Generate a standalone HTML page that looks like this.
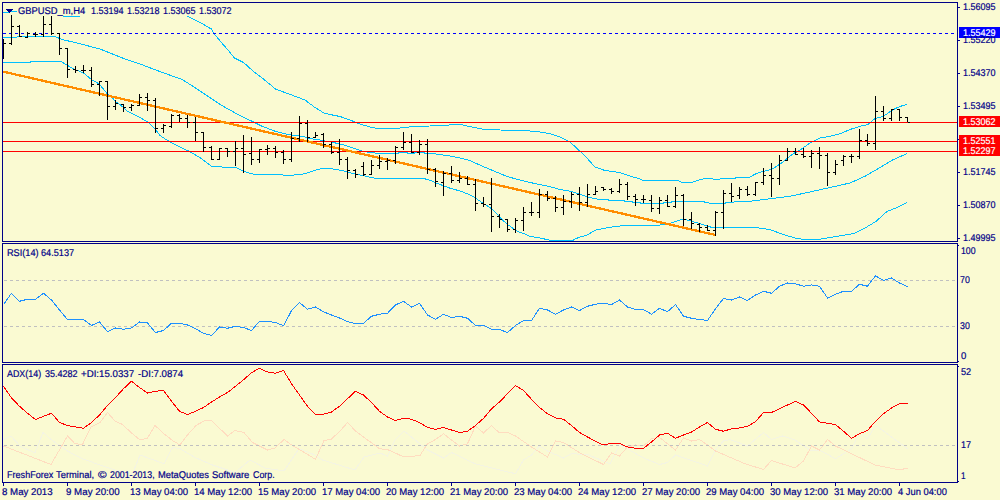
<!DOCTYPE html>
<html><head><meta charset="utf-8"><title>GBPUSD_m,H4</title>
<style>
html,body{margin:0;padding:0;background:#fafad2;}
body{width:1000px;height:500px;position:relative;overflow:hidden;font-family:"Liberation Sans",sans-serif;}
.t{position:absolute;font-size:40px;line-height:40px;height:40px;white-space:nowrap;transform-origin:0 0;text-rendering:geometricPrecision;-webkit-text-stroke:0.8px currentColor;}
</style></head><body>
<svg width="1000" height="500" viewBox="0 0 1000 500" shape-rendering="crispEdges" style="position:absolute;left:0;top:0">
<rect x="0" y="0" width="1000" height="500" fill="#fafad2"/>
<polyline points="3.00,12.50 8.00,12.50 10.00,11.50 17.00,11.50 40.00,14.00 63.00,15.50 64.00,16.50 79.00,16.50 80.00,15.50 120.00,14.00 170.00,13.50 186.00,15.50 188.00,16.30 199.20,22.00 211.20,28.90 214.40,34.00 221.60,42.80 228.00,50.00 234.40,58.00 244.00,62.80 253.60,71.60 263.20,78.80 276.00,89.40 285.00,92.50 295.00,96.25 305.00,100.00 315.00,107.50 324.00,113.00 332.50,115.00 340.00,116.50 350.00,120.00 360.00,124.00 370.00,127.00 377.50,128.40 390.00,128.40 400.00,128.00 415.00,126.40 430.00,126.00 445.00,125.40 455.00,124.50 460.00,124.30 470.00,126.70 485.00,129.50 500.00,130.00 520.00,130.50 535.00,131.25 550.00,133.75 560.00,137.00 570.00,142.00 580.00,151.25 587.50,158.75 595.00,167.00 605.00,170.50 620.00,172.60 630.00,176.00 640.00,179.00 643.00,180.50 678.00,180.50 682.00,182.30 692.00,182.30 700.00,179.80 705.00,178.50 712.00,178.50 714.00,179.50 718.00,179.50 722.00,178.50 730.00,178.50 735.00,178.50 736.00,177.50 749.00,177.50 755.00,174.20 762.00,171.70 768.00,170.20 773.00,168.70 779.00,164.70 784.00,161.20 790.00,156.20 794.00,153.20 799.00,150.70 810.00,143.00 820.00,138.00 830.00,136.25 840.00,133.75 850.40,129.40 859.20,126.50 868.00,124.50 871.20,122.00 873.60,119.40 877.60,117.70 883.20,116.50 887.20,113.70 890.40,111.40 896.00,108.20 900.80,106.20 907.00,104.50" fill="none" stroke="#00bfff" stroke-width="1" />
<polyline points="3.00,38.00 12.50,37.50 25.00,36.00 54.00,36.00 62.00,39.50 75.00,42.50 100.00,49.00 125.00,59.00 141.00,64.40 160.00,71.60 182.40,79.60 195.00,87.60 208.00,96.40 221.00,105.00 232.00,111.20 240.00,115.60 251.00,120.80 262.40,126.40 275.00,131.20 288.00,134.40 304.00,136.80 310.00,138.50 319.60,140.00 330.80,142.00 342.00,144.40 351.60,147.60 361.00,150.80 369.00,152.40 380.00,153.50 398.00,153.50 399.00,152.50 407.00,152.50 408.00,153.50 414.00,153.50 415.00,152.50 424.00,152.50 425.00,153.50 432.00,153.50 440.00,154.50 450.00,156.00 460.00,158.00 470.00,160.60 482.50,166.25 495.00,171.50 508.00,176.80 520.00,180.00 535.00,183.60 540.00,184.60 550.00,186.60 560.00,189.50 570.00,191.10 580.00,194.50 590.00,197.60 600.00,199.50 608.00,199.50 609.00,200.50 624.00,200.50 625.00,201.50 632.00,201.50 633.00,202.50 640.00,202.50 641.00,203.50 663.00,203.50 664.00,202.50 671.00,202.50 672.00,201.50 703.00,201.50 706.00,202.50 712.00,203.50 724.00,203.50 727.00,202.50 730.00,202.20 750.00,201.25 770.00,198.75 790.00,196.25 810.00,192.00 830.00,187.50 850.00,183.00 865.00,176.25 880.00,167.50 892.50,160.00 907.00,153.60" fill="none" stroke="#00bfff" stroke-width="1" />
<polyline points="3.00,62.50 30.00,62.50 31.00,61.50 61.00,61.50 66.00,64.50 70.00,67.00 75.00,69.50 80.00,71.50 85.00,74.00 90.00,78.50 93.00,80.50 97.00,82.50 100.00,85.00 103.00,88.50 107.00,93.50 112.00,97.50 116.00,102.00 120.00,104.50 125.00,109.00 128.00,111.60 140.80,118.00 148.80,122.80 155.00,129.00 160.00,135.50 168.00,140.80 176.00,145.00 188.80,151.20 200.00,157.60 211.00,166.00 224.00,167.20 230.00,167.50 236.00,167.50 240.00,169.50 245.00,171.50 250.00,173.50 256.00,174.60 270.00,174.70 278.00,174.40 282.00,174.40 284.00,175.30 293.00,175.30 295.00,174.40 302.00,174.40 310.00,172.00 318.00,169.50 323.00,168.20 330.00,168.40 334.00,169.20 342.00,170.50 351.60,173.20 362.80,175.60 374.00,178.00 386.80,178.50 399.60,178.50 412.40,178.60 424.00,178.60 430.00,180.20 435.00,182.50 440.00,184.40 450.00,188.20 460.00,191.00 470.00,194.80 475.00,197.70 480.00,201.20 485.00,204.50 490.00,207.50 496.00,213.00 501.60,219.20 508.00,224.80 516.00,230.40 520.00,232.40 524.00,233.60 529.60,236.40 536.00,237.30 542.40,238.50 546.40,239.50 552.00,240.50 572.80,240.50 576.00,238.50 581.60,236.60 588.00,234.80 592.00,232.00 596.80,229.70 602.00,228.80 615.00,226.50 630.00,225.00 645.00,225.00 660.00,225.00 668.80,223.80 676.00,221.30 683.00,219.20 690.00,220.70 697.00,222.80 705.00,225.30 712.80,227.70 733.00,227.60 748.40,227.60 759.40,228.00 770.40,229.80 783.60,234.60 794.60,237.90 803.40,239.40 818.80,239.40 827.60,237.90 840.80,235.70 854.00,233.50 865.00,228.00 876.00,221.40 887.00,211.50 898.00,207.10 907.00,202.40" fill="none" stroke="#00bfff" stroke-width="1" />
<rect x="3" y="122" width="954" height="1" fill="#ff0000"/>
<rect x="3" y="141" width="954" height="1" fill="#ff0000"/>
<rect x="3" y="151" width="954" height="1" fill="#ff0000"/>
<rect x="3" y="33" width="3" height="1" fill="#0000ff"/>
<rect x="9" y="33" width="3" height="1" fill="#0000ff"/>
<rect x="15" y="33" width="3" height="1" fill="#0000ff"/>
<rect x="21" y="33" width="3" height="1" fill="#0000ff"/>
<rect x="27" y="33" width="3" height="1" fill="#0000ff"/>
<rect x="33" y="33" width="3" height="1" fill="#0000ff"/>
<rect x="39" y="33" width="3" height="1" fill="#0000ff"/>
<rect x="45" y="33" width="3" height="1" fill="#0000ff"/>
<rect x="51" y="33" width="3" height="1" fill="#0000ff"/>
<rect x="57" y="33" width="3" height="1" fill="#0000ff"/>
<rect x="63" y="33" width="3" height="1" fill="#0000ff"/>
<rect x="69" y="33" width="3" height="1" fill="#0000ff"/>
<rect x="75" y="33" width="3" height="1" fill="#0000ff"/>
<rect x="81" y="33" width="3" height="1" fill="#0000ff"/>
<rect x="87" y="33" width="3" height="1" fill="#0000ff"/>
<rect x="93" y="33" width="3" height="1" fill="#0000ff"/>
<rect x="99" y="33" width="3" height="1" fill="#0000ff"/>
<rect x="105" y="33" width="3" height="1" fill="#0000ff"/>
<rect x="111" y="33" width="3" height="1" fill="#0000ff"/>
<rect x="117" y="33" width="3" height="1" fill="#0000ff"/>
<rect x="123" y="33" width="3" height="1" fill="#0000ff"/>
<rect x="129" y="33" width="3" height="1" fill="#0000ff"/>
<rect x="135" y="33" width="3" height="1" fill="#0000ff"/>
<rect x="141" y="33" width="3" height="1" fill="#0000ff"/>
<rect x="147" y="33" width="3" height="1" fill="#0000ff"/>
<rect x="153" y="33" width="3" height="1" fill="#0000ff"/>
<rect x="159" y="33" width="3" height="1" fill="#0000ff"/>
<rect x="165" y="33" width="3" height="1" fill="#0000ff"/>
<rect x="171" y="33" width="3" height="1" fill="#0000ff"/>
<rect x="177" y="33" width="3" height="1" fill="#0000ff"/>
<rect x="183" y="33" width="3" height="1" fill="#0000ff"/>
<rect x="189" y="33" width="3" height="1" fill="#0000ff"/>
<rect x="195" y="33" width="3" height="1" fill="#0000ff"/>
<rect x="201" y="33" width="3" height="1" fill="#0000ff"/>
<rect x="207" y="33" width="3" height="1" fill="#0000ff"/>
<rect x="213" y="33" width="3" height="1" fill="#0000ff"/>
<rect x="219" y="33" width="3" height="1" fill="#0000ff"/>
<rect x="225" y="33" width="3" height="1" fill="#0000ff"/>
<rect x="231" y="33" width="3" height="1" fill="#0000ff"/>
<rect x="237" y="33" width="3" height="1" fill="#0000ff"/>
<rect x="243" y="33" width="3" height="1" fill="#0000ff"/>
<rect x="249" y="33" width="3" height="1" fill="#0000ff"/>
<rect x="255" y="33" width="3" height="1" fill="#0000ff"/>
<rect x="261" y="33" width="3" height="1" fill="#0000ff"/>
<rect x="267" y="33" width="3" height="1" fill="#0000ff"/>
<rect x="273" y="33" width="3" height="1" fill="#0000ff"/>
<rect x="279" y="33" width="3" height="1" fill="#0000ff"/>
<rect x="285" y="33" width="3" height="1" fill="#0000ff"/>
<rect x="291" y="33" width="3" height="1" fill="#0000ff"/>
<rect x="297" y="33" width="3" height="1" fill="#0000ff"/>
<rect x="303" y="33" width="3" height="1" fill="#0000ff"/>
<rect x="309" y="33" width="3" height="1" fill="#0000ff"/>
<rect x="315" y="33" width="3" height="1" fill="#0000ff"/>
<rect x="321" y="33" width="3" height="1" fill="#0000ff"/>
<rect x="327" y="33" width="3" height="1" fill="#0000ff"/>
<rect x="333" y="33" width="3" height="1" fill="#0000ff"/>
<rect x="339" y="33" width="3" height="1" fill="#0000ff"/>
<rect x="345" y="33" width="3" height="1" fill="#0000ff"/>
<rect x="351" y="33" width="3" height="1" fill="#0000ff"/>
<rect x="357" y="33" width="3" height="1" fill="#0000ff"/>
<rect x="363" y="33" width="3" height="1" fill="#0000ff"/>
<rect x="369" y="33" width="3" height="1" fill="#0000ff"/>
<rect x="375" y="33" width="3" height="1" fill="#0000ff"/>
<rect x="381" y="33" width="3" height="1" fill="#0000ff"/>
<rect x="387" y="33" width="3" height="1" fill="#0000ff"/>
<rect x="393" y="33" width="3" height="1" fill="#0000ff"/>
<rect x="399" y="33" width="3" height="1" fill="#0000ff"/>
<rect x="405" y="33" width="3" height="1" fill="#0000ff"/>
<rect x="411" y="33" width="3" height="1" fill="#0000ff"/>
<rect x="417" y="33" width="3" height="1" fill="#0000ff"/>
<rect x="423" y="33" width="3" height="1" fill="#0000ff"/>
<rect x="429" y="33" width="3" height="1" fill="#0000ff"/>
<rect x="435" y="33" width="3" height="1" fill="#0000ff"/>
<rect x="441" y="33" width="3" height="1" fill="#0000ff"/>
<rect x="447" y="33" width="3" height="1" fill="#0000ff"/>
<rect x="453" y="33" width="3" height="1" fill="#0000ff"/>
<rect x="459" y="33" width="3" height="1" fill="#0000ff"/>
<rect x="465" y="33" width="3" height="1" fill="#0000ff"/>
<rect x="471" y="33" width="3" height="1" fill="#0000ff"/>
<rect x="477" y="33" width="3" height="1" fill="#0000ff"/>
<rect x="483" y="33" width="3" height="1" fill="#0000ff"/>
<rect x="489" y="33" width="3" height="1" fill="#0000ff"/>
<rect x="495" y="33" width="3" height="1" fill="#0000ff"/>
<rect x="501" y="33" width="3" height="1" fill="#0000ff"/>
<rect x="507" y="33" width="3" height="1" fill="#0000ff"/>
<rect x="513" y="33" width="3" height="1" fill="#0000ff"/>
<rect x="519" y="33" width="3" height="1" fill="#0000ff"/>
<rect x="525" y="33" width="3" height="1" fill="#0000ff"/>
<rect x="531" y="33" width="3" height="1" fill="#0000ff"/>
<rect x="537" y="33" width="3" height="1" fill="#0000ff"/>
<rect x="543" y="33" width="3" height="1" fill="#0000ff"/>
<rect x="549" y="33" width="3" height="1" fill="#0000ff"/>
<rect x="555" y="33" width="3" height="1" fill="#0000ff"/>
<rect x="561" y="33" width="3" height="1" fill="#0000ff"/>
<rect x="567" y="33" width="3" height="1" fill="#0000ff"/>
<rect x="573" y="33" width="3" height="1" fill="#0000ff"/>
<rect x="579" y="33" width="3" height="1" fill="#0000ff"/>
<rect x="585" y="33" width="3" height="1" fill="#0000ff"/>
<rect x="591" y="33" width="3" height="1" fill="#0000ff"/>
<rect x="597" y="33" width="3" height="1" fill="#0000ff"/>
<rect x="603" y="33" width="3" height="1" fill="#0000ff"/>
<rect x="609" y="33" width="3" height="1" fill="#0000ff"/>
<rect x="615" y="33" width="3" height="1" fill="#0000ff"/>
<rect x="621" y="33" width="3" height="1" fill="#0000ff"/>
<rect x="627" y="33" width="3" height="1" fill="#0000ff"/>
<rect x="633" y="33" width="3" height="1" fill="#0000ff"/>
<rect x="639" y="33" width="3" height="1" fill="#0000ff"/>
<rect x="645" y="33" width="3" height="1" fill="#0000ff"/>
<rect x="651" y="33" width="3" height="1" fill="#0000ff"/>
<rect x="657" y="33" width="3" height="1" fill="#0000ff"/>
<rect x="663" y="33" width="3" height="1" fill="#0000ff"/>
<rect x="669" y="33" width="3" height="1" fill="#0000ff"/>
<rect x="675" y="33" width="3" height="1" fill="#0000ff"/>
<rect x="681" y="33" width="3" height="1" fill="#0000ff"/>
<rect x="687" y="33" width="3" height="1" fill="#0000ff"/>
<rect x="693" y="33" width="3" height="1" fill="#0000ff"/>
<rect x="699" y="33" width="3" height="1" fill="#0000ff"/>
<rect x="705" y="33" width="3" height="1" fill="#0000ff"/>
<rect x="711" y="33" width="3" height="1" fill="#0000ff"/>
<rect x="717" y="33" width="3" height="1" fill="#0000ff"/>
<rect x="723" y="33" width="3" height="1" fill="#0000ff"/>
<rect x="729" y="33" width="3" height="1" fill="#0000ff"/>
<rect x="735" y="33" width="3" height="1" fill="#0000ff"/>
<rect x="741" y="33" width="3" height="1" fill="#0000ff"/>
<rect x="747" y="33" width="3" height="1" fill="#0000ff"/>
<rect x="753" y="33" width="3" height="1" fill="#0000ff"/>
<rect x="759" y="33" width="3" height="1" fill="#0000ff"/>
<rect x="765" y="33" width="3" height="1" fill="#0000ff"/>
<rect x="771" y="33" width="3" height="1" fill="#0000ff"/>
<rect x="777" y="33" width="3" height="1" fill="#0000ff"/>
<rect x="783" y="33" width="3" height="1" fill="#0000ff"/>
<rect x="789" y="33" width="3" height="1" fill="#0000ff"/>
<rect x="795" y="33" width="3" height="1" fill="#0000ff"/>
<rect x="801" y="33" width="3" height="1" fill="#0000ff"/>
<rect x="807" y="33" width="3" height="1" fill="#0000ff"/>
<rect x="813" y="33" width="3" height="1" fill="#0000ff"/>
<rect x="819" y="33" width="3" height="1" fill="#0000ff"/>
<rect x="825" y="33" width="3" height="1" fill="#0000ff"/>
<rect x="831" y="33" width="3" height="1" fill="#0000ff"/>
<rect x="837" y="33" width="3" height="1" fill="#0000ff"/>
<rect x="843" y="33" width="3" height="1" fill="#0000ff"/>
<rect x="849" y="33" width="3" height="1" fill="#0000ff"/>
<rect x="855" y="33" width="3" height="1" fill="#0000ff"/>
<rect x="861" y="33" width="3" height="1" fill="#0000ff"/>
<rect x="867" y="33" width="3" height="1" fill="#0000ff"/>
<rect x="873" y="33" width="3" height="1" fill="#0000ff"/>
<rect x="879" y="33" width="3" height="1" fill="#0000ff"/>
<rect x="885" y="33" width="3" height="1" fill="#0000ff"/>
<rect x="891" y="33" width="3" height="1" fill="#0000ff"/>
<rect x="897" y="33" width="3" height="1" fill="#0000ff"/>
<rect x="903" y="33" width="3" height="1" fill="#0000ff"/>
<rect x="909" y="33" width="3" height="1" fill="#0000ff"/>
<rect x="915" y="33" width="3" height="1" fill="#0000ff"/>
<rect x="921" y="33" width="3" height="1" fill="#0000ff"/>
<rect x="927" y="33" width="3" height="1" fill="#0000ff"/>
<rect x="933" y="33" width="3" height="1" fill="#0000ff"/>
<rect x="939" y="33" width="3" height="1" fill="#0000ff"/>
<rect x="945" y="33" width="3" height="1" fill="#0000ff"/>
<rect x="951" y="33" width="3" height="1" fill="#0000ff"/>
<line x1="3" y1="71.6" x2="715.5" y2="235.0" stroke="#ff8c00" stroke-width="2.3"/>
<rect x="3" y="39" width="1" height="20" fill="#000"/>
<rect x="4" y="43" width="2" height="1" fill="#000"/>
<rect x="11" y="15" width="1" height="30" fill="#000"/>
<rect x="9" y="43" width="2" height="1" fill="#000"/>
<rect x="12" y="26" width="2" height="1" fill="#000"/>
<rect x="19" y="25" width="1" height="12" fill="#000"/>
<rect x="17" y="26" width="2" height="1" fill="#000"/>
<rect x="20" y="36" width="2" height="1" fill="#000"/>
<rect x="27" y="32" width="1" height="6" fill="#000"/>
<rect x="25" y="37" width="2" height="1" fill="#000"/>
<rect x="28" y="33" width="2" height="1" fill="#000"/>
<rect x="35" y="32" width="1" height="5" fill="#000"/>
<rect x="33" y="34" width="2" height="1" fill="#000"/>
<rect x="36" y="34" width="2" height="1" fill="#000"/>
<rect x="43" y="16" width="1" height="21" fill="#000"/>
<rect x="41" y="34" width="2" height="1" fill="#000"/>
<rect x="44" y="24" width="2" height="1" fill="#000"/>
<rect x="51" y="16" width="1" height="19" fill="#000"/>
<rect x="49" y="24" width="2" height="1" fill="#000"/>
<rect x="52" y="33" width="2" height="1" fill="#000"/>
<rect x="59" y="33" width="1" height="22" fill="#000"/>
<rect x="57" y="33" width="2" height="1" fill="#000"/>
<rect x="60" y="48" width="2" height="1" fill="#000"/>
<rect x="67" y="48" width="1" height="30" fill="#000"/>
<rect x="65" y="48" width="2" height="1" fill="#000"/>
<rect x="68" y="69" width="2" height="1" fill="#000"/>
<rect x="75" y="66" width="1" height="7" fill="#000"/>
<rect x="73" y="69" width="2" height="1" fill="#000"/>
<rect x="76" y="70" width="2" height="1" fill="#000"/>
<rect x="83" y="65" width="1" height="8" fill="#000"/>
<rect x="81" y="70" width="2" height="1" fill="#000"/>
<rect x="84" y="70" width="2" height="1" fill="#000"/>
<rect x="91" y="67" width="1" height="20" fill="#000"/>
<rect x="89" y="70" width="2" height="1" fill="#000"/>
<rect x="92" y="84" width="2" height="1" fill="#000"/>
<rect x="99" y="81" width="1" height="15" fill="#000"/>
<rect x="97" y="84" width="2" height="1" fill="#000"/>
<rect x="100" y="81" width="2" height="1" fill="#000"/>
<rect x="107" y="81" width="1" height="39" fill="#000"/>
<rect x="105" y="81" width="2" height="1" fill="#000"/>
<rect x="108" y="106" width="2" height="1" fill="#000"/>
<rect x="115" y="100" width="1" height="10" fill="#000"/>
<rect x="113" y="106" width="2" height="1" fill="#000"/>
<rect x="116" y="103" width="2" height="1" fill="#000"/>
<rect x="123" y="104" width="1" height="8" fill="#000"/>
<rect x="121" y="104" width="2" height="1" fill="#000"/>
<rect x="124" y="107" width="2" height="1" fill="#000"/>
<rect x="131" y="104" width="1" height="7" fill="#000"/>
<rect x="129" y="107" width="2" height="1" fill="#000"/>
<rect x="132" y="105" width="2" height="1" fill="#000"/>
<rect x="139" y="94" width="1" height="12" fill="#000"/>
<rect x="137" y="105" width="2" height="1" fill="#000"/>
<rect x="140" y="97" width="2" height="1" fill="#000"/>
<rect x="147" y="93" width="1" height="18" fill="#000"/>
<rect x="145" y="97" width="2" height="1" fill="#000"/>
<rect x="148" y="100" width="2" height="1" fill="#000"/>
<rect x="155" y="98" width="1" height="35" fill="#000"/>
<rect x="153" y="100" width="2" height="1" fill="#000"/>
<rect x="156" y="128" width="2" height="1" fill="#000"/>
<rect x="163" y="124" width="1" height="9" fill="#000"/>
<rect x="161" y="128" width="2" height="1" fill="#000"/>
<rect x="164" y="125" width="2" height="1" fill="#000"/>
<rect x="171" y="114" width="1" height="14" fill="#000"/>
<rect x="169" y="126" width="2" height="1" fill="#000"/>
<rect x="172" y="115" width="2" height="1" fill="#000"/>
<rect x="179" y="114" width="1" height="8" fill="#000"/>
<rect x="177" y="115" width="2" height="1" fill="#000"/>
<rect x="180" y="118" width="2" height="1" fill="#000"/>
<rect x="187" y="115" width="1" height="13" fill="#000"/>
<rect x="185" y="118" width="2" height="1" fill="#000"/>
<rect x="188" y="122" width="2" height="1" fill="#000"/>
<rect x="195" y="117" width="1" height="24" fill="#000"/>
<rect x="193" y="122" width="2" height="1" fill="#000"/>
<rect x="196" y="132" width="2" height="1" fill="#000"/>
<rect x="203" y="132" width="1" height="20" fill="#000"/>
<rect x="201" y="132" width="2" height="1" fill="#000"/>
<rect x="204" y="147" width="2" height="1" fill="#000"/>
<rect x="211" y="146" width="1" height="14" fill="#000"/>
<rect x="209" y="147" width="2" height="1" fill="#000"/>
<rect x="212" y="159" width="2" height="1" fill="#000"/>
<rect x="219" y="148" width="1" height="12" fill="#000"/>
<rect x="217" y="159" width="2" height="1" fill="#000"/>
<rect x="220" y="148" width="2" height="1" fill="#000"/>
<rect x="227" y="148" width="1" height="9" fill="#000"/>
<rect x="225" y="148" width="2" height="1" fill="#000"/>
<rect x="228" y="151" width="2" height="1" fill="#000"/>
<rect x="235" y="141" width="1" height="25" fill="#000"/>
<rect x="233" y="151" width="2" height="1" fill="#000"/>
<rect x="236" y="148" width="2" height="1" fill="#000"/>
<rect x="243" y="135" width="1" height="38" fill="#000"/>
<rect x="241" y="148" width="2" height="1" fill="#000"/>
<rect x="244" y="154" width="2" height="1" fill="#000"/>
<rect x="251" y="137" width="1" height="28" fill="#000"/>
<rect x="249" y="153" width="2" height="1" fill="#000"/>
<rect x="252" y="159" width="2" height="1" fill="#000"/>
<rect x="259" y="149" width="1" height="14" fill="#000"/>
<rect x="257" y="159" width="2" height="1" fill="#000"/>
<rect x="260" y="149" width="2" height="1" fill="#000"/>
<rect x="267" y="145" width="1" height="10" fill="#000"/>
<rect x="265" y="149" width="2" height="1" fill="#000"/>
<rect x="268" y="148" width="2" height="1" fill="#000"/>
<rect x="275" y="146" width="1" height="12" fill="#000"/>
<rect x="273" y="148" width="2" height="1" fill="#000"/>
<rect x="276" y="152" width="2" height="1" fill="#000"/>
<rect x="283" y="150" width="1" height="14" fill="#000"/>
<rect x="281" y="152" width="2" height="1" fill="#000"/>
<rect x="284" y="159" width="2" height="1" fill="#000"/>
<rect x="291" y="132" width="1" height="30" fill="#000"/>
<rect x="289" y="159" width="2" height="1" fill="#000"/>
<rect x="292" y="138" width="2" height="1" fill="#000"/>
<rect x="299" y="116" width="1" height="26" fill="#000"/>
<rect x="297" y="138" width="2" height="1" fill="#000"/>
<rect x="300" y="123" width="2" height="1" fill="#000"/>
<rect x="307" y="120" width="1" height="22" fill="#000"/>
<rect x="305" y="123" width="2" height="1" fill="#000"/>
<rect x="308" y="137" width="2" height="1" fill="#000"/>
<rect x="315" y="132" width="1" height="6" fill="#000"/>
<rect x="313" y="137" width="2" height="1" fill="#000"/>
<rect x="316" y="135" width="2" height="1" fill="#000"/>
<rect x="323" y="133" width="1" height="15" fill="#000"/>
<rect x="321" y="134" width="2" height="1" fill="#000"/>
<rect x="324" y="144" width="2" height="1" fill="#000"/>
<rect x="331" y="142" width="1" height="12" fill="#000"/>
<rect x="329" y="144" width="2" height="1" fill="#000"/>
<rect x="332" y="152" width="2" height="1" fill="#000"/>
<rect x="339" y="139" width="1" height="26" fill="#000"/>
<rect x="337" y="152" width="2" height="1" fill="#000"/>
<rect x="340" y="159" width="2" height="1" fill="#000"/>
<rect x="347" y="157" width="1" height="22" fill="#000"/>
<rect x="345" y="159" width="2" height="1" fill="#000"/>
<rect x="348" y="170" width="2" height="1" fill="#000"/>
<rect x="355" y="169" width="1" height="9" fill="#000"/>
<rect x="353" y="170" width="2" height="1" fill="#000"/>
<rect x="356" y="174" width="2" height="1" fill="#000"/>
<rect x="363" y="162" width="1" height="14" fill="#000"/>
<rect x="361" y="166" width="2" height="1" fill="#000"/>
<rect x="364" y="174" width="2" height="1" fill="#000"/>
<rect x="371" y="160" width="1" height="15" fill="#000"/>
<rect x="369" y="174" width="2" height="1" fill="#000"/>
<rect x="372" y="165" width="2" height="1" fill="#000"/>
<rect x="379" y="155" width="1" height="14" fill="#000"/>
<rect x="377" y="165" width="2" height="1" fill="#000"/>
<rect x="380" y="161" width="2" height="1" fill="#000"/>
<rect x="387" y="158" width="1" height="12" fill="#000"/>
<rect x="385" y="161" width="2" height="1" fill="#000"/>
<rect x="388" y="160" width="2" height="1" fill="#000"/>
<rect x="395" y="146" width="1" height="18" fill="#000"/>
<rect x="393" y="160" width="2" height="1" fill="#000"/>
<rect x="396" y="147" width="2" height="1" fill="#000"/>
<rect x="403" y="132" width="1" height="18" fill="#000"/>
<rect x="401" y="147" width="2" height="1" fill="#000"/>
<rect x="404" y="142" width="2" height="1" fill="#000"/>
<rect x="411" y="134" width="1" height="19" fill="#000"/>
<rect x="409" y="142" width="2" height="1" fill="#000"/>
<rect x="412" y="152" width="2" height="1" fill="#000"/>
<rect x="419" y="140" width="1" height="15" fill="#000"/>
<rect x="417" y="152" width="2" height="1" fill="#000"/>
<rect x="420" y="144" width="2" height="1" fill="#000"/>
<rect x="427" y="139" width="1" height="35" fill="#000"/>
<rect x="425" y="144" width="2" height="1" fill="#000"/>
<rect x="428" y="169" width="2" height="1" fill="#000"/>
<rect x="435" y="168" width="1" height="19" fill="#000"/>
<rect x="433" y="169" width="2" height="1" fill="#000"/>
<rect x="436" y="181" width="2" height="1" fill="#000"/>
<rect x="443" y="171" width="1" height="25" fill="#000"/>
<rect x="441" y="182" width="2" height="1" fill="#000"/>
<rect x="444" y="173" width="2" height="1" fill="#000"/>
<rect x="451" y="166" width="1" height="17" fill="#000"/>
<rect x="449" y="173" width="2" height="1" fill="#000"/>
<rect x="452" y="180" width="2" height="1" fill="#000"/>
<rect x="459" y="172" width="1" height="11" fill="#000"/>
<rect x="457" y="180" width="2" height="1" fill="#000"/>
<rect x="460" y="178" width="2" height="1" fill="#000"/>
<rect x="467" y="176" width="1" height="9" fill="#000"/>
<rect x="465" y="178" width="2" height="1" fill="#000"/>
<rect x="468" y="184" width="2" height="1" fill="#000"/>
<rect x="475" y="179" width="1" height="32" fill="#000"/>
<rect x="473" y="184" width="2" height="1" fill="#000"/>
<rect x="476" y="203" width="2" height="1" fill="#000"/>
<rect x="483" y="197" width="1" height="10" fill="#000"/>
<rect x="481" y="203" width="2" height="1" fill="#000"/>
<rect x="484" y="204" width="2" height="1" fill="#000"/>
<rect x="491" y="178" width="1" height="54" fill="#000"/>
<rect x="489" y="204" width="2" height="1" fill="#000"/>
<rect x="492" y="216" width="2" height="1" fill="#000"/>
<rect x="499" y="214" width="1" height="14" fill="#000"/>
<rect x="497" y="216" width="2" height="1" fill="#000"/>
<rect x="500" y="219" width="2" height="1" fill="#000"/>
<rect x="507" y="219" width="1" height="13" fill="#000"/>
<rect x="505" y="219" width="2" height="1" fill="#000"/>
<rect x="508" y="229" width="2" height="1" fill="#000"/>
<rect x="515" y="218" width="1" height="15" fill="#000"/>
<rect x="513" y="229" width="2" height="1" fill="#000"/>
<rect x="516" y="220" width="2" height="1" fill="#000"/>
<rect x="523" y="207" width="1" height="24" fill="#000"/>
<rect x="521" y="220" width="2" height="1" fill="#000"/>
<rect x="524" y="212" width="2" height="1" fill="#000"/>
<rect x="531" y="202" width="1" height="14" fill="#000"/>
<rect x="529" y="212" width="2" height="1" fill="#000"/>
<rect x="532" y="212" width="2" height="1" fill="#000"/>
<rect x="539" y="189" width="1" height="29" fill="#000"/>
<rect x="537" y="212" width="2" height="1" fill="#000"/>
<rect x="540" y="194" width="2" height="1" fill="#000"/>
<rect x="547" y="191" width="1" height="10" fill="#000"/>
<rect x="545" y="194" width="2" height="1" fill="#000"/>
<rect x="548" y="198" width="2" height="1" fill="#000"/>
<rect x="555" y="196" width="1" height="16" fill="#000"/>
<rect x="553" y="198" width="2" height="1" fill="#000"/>
<rect x="556" y="207" width="2" height="1" fill="#000"/>
<rect x="563" y="195" width="1" height="20" fill="#000"/>
<rect x="561" y="207" width="2" height="1" fill="#000"/>
<rect x="564" y="201" width="2" height="1" fill="#000"/>
<rect x="571" y="192" width="1" height="16" fill="#000"/>
<rect x="569" y="201" width="2" height="1" fill="#000"/>
<rect x="572" y="194" width="2" height="1" fill="#000"/>
<rect x="579" y="187" width="1" height="24" fill="#000"/>
<rect x="577" y="194" width="2" height="1" fill="#000"/>
<rect x="580" y="202" width="2" height="1" fill="#000"/>
<rect x="587" y="184" width="1" height="23" fill="#000"/>
<rect x="585" y="202" width="2" height="1" fill="#000"/>
<rect x="588" y="194" width="2" height="1" fill="#000"/>
<rect x="595" y="186" width="1" height="9" fill="#000"/>
<rect x="593" y="194" width="2" height="1" fill="#000"/>
<rect x="596" y="191" width="2" height="1" fill="#000"/>
<rect x="603" y="187" width="1" height="4" fill="#000"/>
<rect x="601" y="187" width="2" height="1" fill="#000"/>
<rect x="604" y="189" width="2" height="1" fill="#000"/>
<rect x="611" y="188" width="1" height="6" fill="#000"/>
<rect x="609" y="189" width="2" height="1" fill="#000"/>
<rect x="612" y="191" width="2" height="1" fill="#000"/>
<rect x="619" y="179" width="1" height="14" fill="#000"/>
<rect x="617" y="191" width="2" height="1" fill="#000"/>
<rect x="620" y="184" width="2" height="1" fill="#000"/>
<rect x="627" y="182" width="1" height="18" fill="#000"/>
<rect x="625" y="184" width="2" height="1" fill="#000"/>
<rect x="628" y="196" width="2" height="1" fill="#000"/>
<rect x="635" y="194" width="1" height="12" fill="#000"/>
<rect x="633" y="196" width="2" height="1" fill="#000"/>
<rect x="636" y="199" width="2" height="1" fill="#000"/>
<rect x="643" y="195" width="1" height="8" fill="#000"/>
<rect x="641" y="199" width="2" height="1" fill="#000"/>
<rect x="644" y="199" width="2" height="1" fill="#000"/>
<rect x="651" y="195" width="1" height="17" fill="#000"/>
<rect x="649" y="200" width="2" height="1" fill="#000"/>
<rect x="652" y="208" width="2" height="1" fill="#000"/>
<rect x="659" y="197" width="1" height="17" fill="#000"/>
<rect x="657" y="208" width="2" height="1" fill="#000"/>
<rect x="660" y="200" width="2" height="1" fill="#000"/>
<rect x="667" y="195" width="1" height="12" fill="#000"/>
<rect x="665" y="200" width="2" height="1" fill="#000"/>
<rect x="668" y="206" width="2" height="1" fill="#000"/>
<rect x="675" y="187" width="1" height="21" fill="#000"/>
<rect x="673" y="206" width="2" height="1" fill="#000"/>
<rect x="676" y="195" width="2" height="1" fill="#000"/>
<rect x="683" y="194" width="1" height="32" fill="#000"/>
<rect x="681" y="195" width="2" height="1" fill="#000"/>
<rect x="684" y="219" width="2" height="1" fill="#000"/>
<rect x="691" y="212" width="1" height="17" fill="#000"/>
<rect x="689" y="219" width="2" height="1" fill="#000"/>
<rect x="692" y="223" width="2" height="1" fill="#000"/>
<rect x="699" y="223" width="1" height="9" fill="#000"/>
<rect x="697" y="224" width="2" height="1" fill="#000"/>
<rect x="700" y="227" width="2" height="1" fill="#000"/>
<rect x="707" y="225" width="1" height="6" fill="#000"/>
<rect x="705" y="227" width="2" height="1" fill="#000"/>
<rect x="708" y="230" width="2" height="1" fill="#000"/>
<rect x="715" y="211" width="1" height="25" fill="#000"/>
<rect x="713" y="230" width="2" height="1" fill="#000"/>
<rect x="716" y="212" width="2" height="1" fill="#000"/>
<rect x="723" y="190" width="1" height="39" fill="#000"/>
<rect x="721" y="212" width="2" height="1" fill="#000"/>
<rect x="724" y="193" width="2" height="1" fill="#000"/>
<rect x="731" y="183" width="1" height="19" fill="#000"/>
<rect x="729" y="193" width="2" height="1" fill="#000"/>
<rect x="732" y="196" width="2" height="1" fill="#000"/>
<rect x="739" y="187" width="1" height="12" fill="#000"/>
<rect x="737" y="195" width="2" height="1" fill="#000"/>
<rect x="740" y="189" width="2" height="1" fill="#000"/>
<rect x="747" y="186" width="1" height="10" fill="#000"/>
<rect x="745" y="189" width="2" height="1" fill="#000"/>
<rect x="748" y="194" width="2" height="1" fill="#000"/>
<rect x="755" y="182" width="1" height="14" fill="#000"/>
<rect x="753" y="194" width="2" height="1" fill="#000"/>
<rect x="756" y="182" width="2" height="1" fill="#000"/>
<rect x="763" y="168" width="1" height="17" fill="#000"/>
<rect x="761" y="182" width="2" height="1" fill="#000"/>
<rect x="764" y="175" width="2" height="1" fill="#000"/>
<rect x="771" y="163" width="1" height="34" fill="#000"/>
<rect x="769" y="175" width="2" height="1" fill="#000"/>
<rect x="772" y="178" width="2" height="1" fill="#000"/>
<rect x="779" y="155" width="1" height="30" fill="#000"/>
<rect x="777" y="178" width="2" height="1" fill="#000"/>
<rect x="780" y="160" width="2" height="1" fill="#000"/>
<rect x="787" y="148" width="1" height="13" fill="#000"/>
<rect x="785" y="160" width="2" height="1" fill="#000"/>
<rect x="788" y="151" width="2" height="1" fill="#000"/>
<rect x="795" y="148" width="1" height="7" fill="#000"/>
<rect x="793" y="151" width="2" height="1" fill="#000"/>
<rect x="796" y="154" width="2" height="1" fill="#000"/>
<rect x="803" y="148" width="1" height="10" fill="#000"/>
<rect x="801" y="154" width="2" height="1" fill="#000"/>
<rect x="804" y="156" width="2" height="1" fill="#000"/>
<rect x="811" y="150" width="1" height="18" fill="#000"/>
<rect x="809" y="156" width="2" height="1" fill="#000"/>
<rect x="812" y="153" width="2" height="1" fill="#000"/>
<rect x="819" y="147" width="1" height="22" fill="#000"/>
<rect x="817" y="153" width="2" height="1" fill="#000"/>
<rect x="820" y="155" width="2" height="1" fill="#000"/>
<rect x="827" y="153" width="1" height="33" fill="#000"/>
<rect x="825" y="155" width="2" height="1" fill="#000"/>
<rect x="828" y="172" width="2" height="1" fill="#000"/>
<rect x="835" y="160" width="1" height="15" fill="#000"/>
<rect x="833" y="172" width="2" height="1" fill="#000"/>
<rect x="836" y="164" width="2" height="1" fill="#000"/>
<rect x="843" y="155" width="1" height="11" fill="#000"/>
<rect x="841" y="160" width="2" height="1" fill="#000"/>
<rect x="844" y="156" width="2" height="1" fill="#000"/>
<rect x="851" y="154" width="1" height="9" fill="#000"/>
<rect x="849" y="156" width="2" height="1" fill="#000"/>
<rect x="852" y="156" width="2" height="1" fill="#000"/>
<rect x="859" y="129" width="1" height="30" fill="#000"/>
<rect x="857" y="156" width="2" height="1" fill="#000"/>
<rect x="860" y="140" width="2" height="1" fill="#000"/>
<rect x="867" y="134" width="1" height="12" fill="#000"/>
<rect x="865" y="140" width="2" height="1" fill="#000"/>
<rect x="868" y="143" width="2" height="1" fill="#000"/>
<rect x="875" y="96" width="1" height="54" fill="#000"/>
<rect x="873" y="143" width="2" height="1" fill="#000"/>
<rect x="876" y="111" width="2" height="1" fill="#000"/>
<rect x="883" y="106" width="1" height="15" fill="#000"/>
<rect x="881" y="111" width="2" height="1" fill="#000"/>
<rect x="884" y="118" width="2" height="1" fill="#000"/>
<rect x="891" y="109" width="1" height="12" fill="#000"/>
<rect x="889" y="118" width="2" height="1" fill="#000"/>
<rect x="892" y="109" width="2" height="1" fill="#000"/>
<rect x="899" y="109" width="1" height="12" fill="#000"/>
<rect x="897" y="109" width="2" height="1" fill="#000"/>
<rect x="900" y="117" width="2" height="1" fill="#000"/>
<rect x="907" y="117" width="1" height="5" fill="#000"/>
<rect x="905" y="117" width="2" height="1" fill="#000"/>
<rect x="908" y="122" width="2" height="1" fill="#000"/>
<rect x="4" y="280" width="3" height="1" fill="#c0c0c0"/>
<rect x="10" y="280" width="3" height="1" fill="#c0c0c0"/>
<rect x="16" y="280" width="3" height="1" fill="#c0c0c0"/>
<rect x="22" y="280" width="3" height="1" fill="#c0c0c0"/>
<rect x="28" y="280" width="3" height="1" fill="#c0c0c0"/>
<rect x="34" y="280" width="3" height="1" fill="#c0c0c0"/>
<rect x="40" y="280" width="3" height="1" fill="#c0c0c0"/>
<rect x="46" y="280" width="3" height="1" fill="#c0c0c0"/>
<rect x="52" y="280" width="3" height="1" fill="#c0c0c0"/>
<rect x="58" y="280" width="3" height="1" fill="#c0c0c0"/>
<rect x="64" y="280" width="3" height="1" fill="#c0c0c0"/>
<rect x="70" y="280" width="3" height="1" fill="#c0c0c0"/>
<rect x="76" y="280" width="3" height="1" fill="#c0c0c0"/>
<rect x="82" y="280" width="3" height="1" fill="#c0c0c0"/>
<rect x="88" y="280" width="3" height="1" fill="#c0c0c0"/>
<rect x="94" y="280" width="3" height="1" fill="#c0c0c0"/>
<rect x="100" y="280" width="3" height="1" fill="#c0c0c0"/>
<rect x="106" y="280" width="3" height="1" fill="#c0c0c0"/>
<rect x="112" y="280" width="3" height="1" fill="#c0c0c0"/>
<rect x="118" y="280" width="3" height="1" fill="#c0c0c0"/>
<rect x="124" y="280" width="3" height="1" fill="#c0c0c0"/>
<rect x="130" y="280" width="3" height="1" fill="#c0c0c0"/>
<rect x="136" y="280" width="3" height="1" fill="#c0c0c0"/>
<rect x="142" y="280" width="3" height="1" fill="#c0c0c0"/>
<rect x="148" y="280" width="3" height="1" fill="#c0c0c0"/>
<rect x="154" y="280" width="3" height="1" fill="#c0c0c0"/>
<rect x="160" y="280" width="3" height="1" fill="#c0c0c0"/>
<rect x="166" y="280" width="3" height="1" fill="#c0c0c0"/>
<rect x="172" y="280" width="3" height="1" fill="#c0c0c0"/>
<rect x="178" y="280" width="3" height="1" fill="#c0c0c0"/>
<rect x="184" y="280" width="3" height="1" fill="#c0c0c0"/>
<rect x="190" y="280" width="3" height="1" fill="#c0c0c0"/>
<rect x="196" y="280" width="3" height="1" fill="#c0c0c0"/>
<rect x="202" y="280" width="3" height="1" fill="#c0c0c0"/>
<rect x="208" y="280" width="3" height="1" fill="#c0c0c0"/>
<rect x="214" y="280" width="3" height="1" fill="#c0c0c0"/>
<rect x="220" y="280" width="3" height="1" fill="#c0c0c0"/>
<rect x="226" y="280" width="3" height="1" fill="#c0c0c0"/>
<rect x="232" y="280" width="3" height="1" fill="#c0c0c0"/>
<rect x="238" y="280" width="3" height="1" fill="#c0c0c0"/>
<rect x="244" y="280" width="3" height="1" fill="#c0c0c0"/>
<rect x="250" y="280" width="3" height="1" fill="#c0c0c0"/>
<rect x="256" y="280" width="3" height="1" fill="#c0c0c0"/>
<rect x="262" y="280" width="3" height="1" fill="#c0c0c0"/>
<rect x="268" y="280" width="3" height="1" fill="#c0c0c0"/>
<rect x="274" y="280" width="3" height="1" fill="#c0c0c0"/>
<rect x="280" y="280" width="3" height="1" fill="#c0c0c0"/>
<rect x="286" y="280" width="3" height="1" fill="#c0c0c0"/>
<rect x="292" y="280" width="3" height="1" fill="#c0c0c0"/>
<rect x="298" y="280" width="3" height="1" fill="#c0c0c0"/>
<rect x="304" y="280" width="3" height="1" fill="#c0c0c0"/>
<rect x="310" y="280" width="3" height="1" fill="#c0c0c0"/>
<rect x="316" y="280" width="3" height="1" fill="#c0c0c0"/>
<rect x="322" y="280" width="3" height="1" fill="#c0c0c0"/>
<rect x="328" y="280" width="3" height="1" fill="#c0c0c0"/>
<rect x="334" y="280" width="3" height="1" fill="#c0c0c0"/>
<rect x="340" y="280" width="3" height="1" fill="#c0c0c0"/>
<rect x="346" y="280" width="3" height="1" fill="#c0c0c0"/>
<rect x="352" y="280" width="3" height="1" fill="#c0c0c0"/>
<rect x="358" y="280" width="3" height="1" fill="#c0c0c0"/>
<rect x="364" y="280" width="3" height="1" fill="#c0c0c0"/>
<rect x="370" y="280" width="3" height="1" fill="#c0c0c0"/>
<rect x="376" y="280" width="3" height="1" fill="#c0c0c0"/>
<rect x="382" y="280" width="3" height="1" fill="#c0c0c0"/>
<rect x="388" y="280" width="3" height="1" fill="#c0c0c0"/>
<rect x="394" y="280" width="3" height="1" fill="#c0c0c0"/>
<rect x="400" y="280" width="3" height="1" fill="#c0c0c0"/>
<rect x="406" y="280" width="3" height="1" fill="#c0c0c0"/>
<rect x="412" y="280" width="3" height="1" fill="#c0c0c0"/>
<rect x="418" y="280" width="3" height="1" fill="#c0c0c0"/>
<rect x="424" y="280" width="3" height="1" fill="#c0c0c0"/>
<rect x="430" y="280" width="3" height="1" fill="#c0c0c0"/>
<rect x="436" y="280" width="3" height="1" fill="#c0c0c0"/>
<rect x="442" y="280" width="3" height="1" fill="#c0c0c0"/>
<rect x="448" y="280" width="3" height="1" fill="#c0c0c0"/>
<rect x="454" y="280" width="3" height="1" fill="#c0c0c0"/>
<rect x="460" y="280" width="3" height="1" fill="#c0c0c0"/>
<rect x="466" y="280" width="3" height="1" fill="#c0c0c0"/>
<rect x="472" y="280" width="3" height="1" fill="#c0c0c0"/>
<rect x="478" y="280" width="3" height="1" fill="#c0c0c0"/>
<rect x="484" y="280" width="3" height="1" fill="#c0c0c0"/>
<rect x="490" y="280" width="3" height="1" fill="#c0c0c0"/>
<rect x="496" y="280" width="3" height="1" fill="#c0c0c0"/>
<rect x="502" y="280" width="3" height="1" fill="#c0c0c0"/>
<rect x="508" y="280" width="3" height="1" fill="#c0c0c0"/>
<rect x="514" y="280" width="3" height="1" fill="#c0c0c0"/>
<rect x="520" y="280" width="3" height="1" fill="#c0c0c0"/>
<rect x="526" y="280" width="3" height="1" fill="#c0c0c0"/>
<rect x="532" y="280" width="3" height="1" fill="#c0c0c0"/>
<rect x="538" y="280" width="3" height="1" fill="#c0c0c0"/>
<rect x="544" y="280" width="3" height="1" fill="#c0c0c0"/>
<rect x="550" y="280" width="3" height="1" fill="#c0c0c0"/>
<rect x="556" y="280" width="3" height="1" fill="#c0c0c0"/>
<rect x="562" y="280" width="3" height="1" fill="#c0c0c0"/>
<rect x="568" y="280" width="3" height="1" fill="#c0c0c0"/>
<rect x="574" y="280" width="3" height="1" fill="#c0c0c0"/>
<rect x="580" y="280" width="3" height="1" fill="#c0c0c0"/>
<rect x="586" y="280" width="3" height="1" fill="#c0c0c0"/>
<rect x="592" y="280" width="3" height="1" fill="#c0c0c0"/>
<rect x="598" y="280" width="3" height="1" fill="#c0c0c0"/>
<rect x="604" y="280" width="3" height="1" fill="#c0c0c0"/>
<rect x="610" y="280" width="3" height="1" fill="#c0c0c0"/>
<rect x="616" y="280" width="3" height="1" fill="#c0c0c0"/>
<rect x="622" y="280" width="3" height="1" fill="#c0c0c0"/>
<rect x="628" y="280" width="3" height="1" fill="#c0c0c0"/>
<rect x="634" y="280" width="3" height="1" fill="#c0c0c0"/>
<rect x="640" y="280" width="3" height="1" fill="#c0c0c0"/>
<rect x="646" y="280" width="3" height="1" fill="#c0c0c0"/>
<rect x="652" y="280" width="3" height="1" fill="#c0c0c0"/>
<rect x="658" y="280" width="3" height="1" fill="#c0c0c0"/>
<rect x="664" y="280" width="3" height="1" fill="#c0c0c0"/>
<rect x="670" y="280" width="3" height="1" fill="#c0c0c0"/>
<rect x="676" y="280" width="3" height="1" fill="#c0c0c0"/>
<rect x="682" y="280" width="3" height="1" fill="#c0c0c0"/>
<rect x="688" y="280" width="3" height="1" fill="#c0c0c0"/>
<rect x="694" y="280" width="3" height="1" fill="#c0c0c0"/>
<rect x="700" y="280" width="3" height="1" fill="#c0c0c0"/>
<rect x="706" y="280" width="3" height="1" fill="#c0c0c0"/>
<rect x="712" y="280" width="3" height="1" fill="#c0c0c0"/>
<rect x="718" y="280" width="3" height="1" fill="#c0c0c0"/>
<rect x="724" y="280" width="3" height="1" fill="#c0c0c0"/>
<rect x="730" y="280" width="3" height="1" fill="#c0c0c0"/>
<rect x="736" y="280" width="3" height="1" fill="#c0c0c0"/>
<rect x="742" y="280" width="3" height="1" fill="#c0c0c0"/>
<rect x="748" y="280" width="3" height="1" fill="#c0c0c0"/>
<rect x="754" y="280" width="3" height="1" fill="#c0c0c0"/>
<rect x="760" y="280" width="3" height="1" fill="#c0c0c0"/>
<rect x="766" y="280" width="3" height="1" fill="#c0c0c0"/>
<rect x="772" y="280" width="3" height="1" fill="#c0c0c0"/>
<rect x="778" y="280" width="3" height="1" fill="#c0c0c0"/>
<rect x="784" y="280" width="3" height="1" fill="#c0c0c0"/>
<rect x="790" y="280" width="3" height="1" fill="#c0c0c0"/>
<rect x="796" y="280" width="3" height="1" fill="#c0c0c0"/>
<rect x="802" y="280" width="3" height="1" fill="#c0c0c0"/>
<rect x="808" y="280" width="3" height="1" fill="#c0c0c0"/>
<rect x="814" y="280" width="3" height="1" fill="#c0c0c0"/>
<rect x="820" y="280" width="3" height="1" fill="#c0c0c0"/>
<rect x="826" y="280" width="3" height="1" fill="#c0c0c0"/>
<rect x="832" y="280" width="3" height="1" fill="#c0c0c0"/>
<rect x="838" y="280" width="3" height="1" fill="#c0c0c0"/>
<rect x="844" y="280" width="3" height="1" fill="#c0c0c0"/>
<rect x="850" y="280" width="3" height="1" fill="#c0c0c0"/>
<rect x="856" y="280" width="3" height="1" fill="#c0c0c0"/>
<rect x="862" y="280" width="3" height="1" fill="#c0c0c0"/>
<rect x="868" y="280" width="3" height="1" fill="#c0c0c0"/>
<rect x="874" y="280" width="3" height="1" fill="#c0c0c0"/>
<rect x="880" y="280" width="3" height="1" fill="#c0c0c0"/>
<rect x="886" y="280" width="3" height="1" fill="#c0c0c0"/>
<rect x="892" y="280" width="3" height="1" fill="#c0c0c0"/>
<rect x="898" y="280" width="3" height="1" fill="#c0c0c0"/>
<rect x="904" y="280" width="3" height="1" fill="#c0c0c0"/>
<rect x="910" y="280" width="3" height="1" fill="#c0c0c0"/>
<rect x="916" y="280" width="3" height="1" fill="#c0c0c0"/>
<rect x="922" y="280" width="3" height="1" fill="#c0c0c0"/>
<rect x="928" y="280" width="3" height="1" fill="#c0c0c0"/>
<rect x="934" y="280" width="3" height="1" fill="#c0c0c0"/>
<rect x="940" y="280" width="3" height="1" fill="#c0c0c0"/>
<rect x="946" y="280" width="3" height="1" fill="#c0c0c0"/>
<rect x="952" y="280" width="3" height="1" fill="#c0c0c0"/>
<rect x="4" y="326" width="3" height="1" fill="#c0c0c0"/>
<rect x="10" y="326" width="3" height="1" fill="#c0c0c0"/>
<rect x="16" y="326" width="3" height="1" fill="#c0c0c0"/>
<rect x="22" y="326" width="3" height="1" fill="#c0c0c0"/>
<rect x="28" y="326" width="3" height="1" fill="#c0c0c0"/>
<rect x="34" y="326" width="3" height="1" fill="#c0c0c0"/>
<rect x="40" y="326" width="3" height="1" fill="#c0c0c0"/>
<rect x="46" y="326" width="3" height="1" fill="#c0c0c0"/>
<rect x="52" y="326" width="3" height="1" fill="#c0c0c0"/>
<rect x="58" y="326" width="3" height="1" fill="#c0c0c0"/>
<rect x="64" y="326" width="3" height="1" fill="#c0c0c0"/>
<rect x="70" y="326" width="3" height="1" fill="#c0c0c0"/>
<rect x="76" y="326" width="3" height="1" fill="#c0c0c0"/>
<rect x="82" y="326" width="3" height="1" fill="#c0c0c0"/>
<rect x="88" y="326" width="3" height="1" fill="#c0c0c0"/>
<rect x="94" y="326" width="3" height="1" fill="#c0c0c0"/>
<rect x="100" y="326" width="3" height="1" fill="#c0c0c0"/>
<rect x="106" y="326" width="3" height="1" fill="#c0c0c0"/>
<rect x="112" y="326" width="3" height="1" fill="#c0c0c0"/>
<rect x="118" y="326" width="3" height="1" fill="#c0c0c0"/>
<rect x="124" y="326" width="3" height="1" fill="#c0c0c0"/>
<rect x="130" y="326" width="3" height="1" fill="#c0c0c0"/>
<rect x="136" y="326" width="3" height="1" fill="#c0c0c0"/>
<rect x="142" y="326" width="3" height="1" fill="#c0c0c0"/>
<rect x="148" y="326" width="3" height="1" fill="#c0c0c0"/>
<rect x="154" y="326" width="3" height="1" fill="#c0c0c0"/>
<rect x="160" y="326" width="3" height="1" fill="#c0c0c0"/>
<rect x="166" y="326" width="3" height="1" fill="#c0c0c0"/>
<rect x="172" y="326" width="3" height="1" fill="#c0c0c0"/>
<rect x="178" y="326" width="3" height="1" fill="#c0c0c0"/>
<rect x="184" y="326" width="3" height="1" fill="#c0c0c0"/>
<rect x="190" y="326" width="3" height="1" fill="#c0c0c0"/>
<rect x="196" y="326" width="3" height="1" fill="#c0c0c0"/>
<rect x="202" y="326" width="3" height="1" fill="#c0c0c0"/>
<rect x="208" y="326" width="3" height="1" fill="#c0c0c0"/>
<rect x="214" y="326" width="3" height="1" fill="#c0c0c0"/>
<rect x="220" y="326" width="3" height="1" fill="#c0c0c0"/>
<rect x="226" y="326" width="3" height="1" fill="#c0c0c0"/>
<rect x="232" y="326" width="3" height="1" fill="#c0c0c0"/>
<rect x="238" y="326" width="3" height="1" fill="#c0c0c0"/>
<rect x="244" y="326" width="3" height="1" fill="#c0c0c0"/>
<rect x="250" y="326" width="3" height="1" fill="#c0c0c0"/>
<rect x="256" y="326" width="3" height="1" fill="#c0c0c0"/>
<rect x="262" y="326" width="3" height="1" fill="#c0c0c0"/>
<rect x="268" y="326" width="3" height="1" fill="#c0c0c0"/>
<rect x="274" y="326" width="3" height="1" fill="#c0c0c0"/>
<rect x="280" y="326" width="3" height="1" fill="#c0c0c0"/>
<rect x="286" y="326" width="3" height="1" fill="#c0c0c0"/>
<rect x="292" y="326" width="3" height="1" fill="#c0c0c0"/>
<rect x="298" y="326" width="3" height="1" fill="#c0c0c0"/>
<rect x="304" y="326" width="3" height="1" fill="#c0c0c0"/>
<rect x="310" y="326" width="3" height="1" fill="#c0c0c0"/>
<rect x="316" y="326" width="3" height="1" fill="#c0c0c0"/>
<rect x="322" y="326" width="3" height="1" fill="#c0c0c0"/>
<rect x="328" y="326" width="3" height="1" fill="#c0c0c0"/>
<rect x="334" y="326" width="3" height="1" fill="#c0c0c0"/>
<rect x="340" y="326" width="3" height="1" fill="#c0c0c0"/>
<rect x="346" y="326" width="3" height="1" fill="#c0c0c0"/>
<rect x="352" y="326" width="3" height="1" fill="#c0c0c0"/>
<rect x="358" y="326" width="3" height="1" fill="#c0c0c0"/>
<rect x="364" y="326" width="3" height="1" fill="#c0c0c0"/>
<rect x="370" y="326" width="3" height="1" fill="#c0c0c0"/>
<rect x="376" y="326" width="3" height="1" fill="#c0c0c0"/>
<rect x="382" y="326" width="3" height="1" fill="#c0c0c0"/>
<rect x="388" y="326" width="3" height="1" fill="#c0c0c0"/>
<rect x="394" y="326" width="3" height="1" fill="#c0c0c0"/>
<rect x="400" y="326" width="3" height="1" fill="#c0c0c0"/>
<rect x="406" y="326" width="3" height="1" fill="#c0c0c0"/>
<rect x="412" y="326" width="3" height="1" fill="#c0c0c0"/>
<rect x="418" y="326" width="3" height="1" fill="#c0c0c0"/>
<rect x="424" y="326" width="3" height="1" fill="#c0c0c0"/>
<rect x="430" y="326" width="3" height="1" fill="#c0c0c0"/>
<rect x="436" y="326" width="3" height="1" fill="#c0c0c0"/>
<rect x="442" y="326" width="3" height="1" fill="#c0c0c0"/>
<rect x="448" y="326" width="3" height="1" fill="#c0c0c0"/>
<rect x="454" y="326" width="3" height="1" fill="#c0c0c0"/>
<rect x="460" y="326" width="3" height="1" fill="#c0c0c0"/>
<rect x="466" y="326" width="3" height="1" fill="#c0c0c0"/>
<rect x="472" y="326" width="3" height="1" fill="#c0c0c0"/>
<rect x="478" y="326" width="3" height="1" fill="#c0c0c0"/>
<rect x="484" y="326" width="3" height="1" fill="#c0c0c0"/>
<rect x="490" y="326" width="3" height="1" fill="#c0c0c0"/>
<rect x="496" y="326" width="3" height="1" fill="#c0c0c0"/>
<rect x="502" y="326" width="3" height="1" fill="#c0c0c0"/>
<rect x="508" y="326" width="3" height="1" fill="#c0c0c0"/>
<rect x="514" y="326" width="3" height="1" fill="#c0c0c0"/>
<rect x="520" y="326" width="3" height="1" fill="#c0c0c0"/>
<rect x="526" y="326" width="3" height="1" fill="#c0c0c0"/>
<rect x="532" y="326" width="3" height="1" fill="#c0c0c0"/>
<rect x="538" y="326" width="3" height="1" fill="#c0c0c0"/>
<rect x="544" y="326" width="3" height="1" fill="#c0c0c0"/>
<rect x="550" y="326" width="3" height="1" fill="#c0c0c0"/>
<rect x="556" y="326" width="3" height="1" fill="#c0c0c0"/>
<rect x="562" y="326" width="3" height="1" fill="#c0c0c0"/>
<rect x="568" y="326" width="3" height="1" fill="#c0c0c0"/>
<rect x="574" y="326" width="3" height="1" fill="#c0c0c0"/>
<rect x="580" y="326" width="3" height="1" fill="#c0c0c0"/>
<rect x="586" y="326" width="3" height="1" fill="#c0c0c0"/>
<rect x="592" y="326" width="3" height="1" fill="#c0c0c0"/>
<rect x="598" y="326" width="3" height="1" fill="#c0c0c0"/>
<rect x="604" y="326" width="3" height="1" fill="#c0c0c0"/>
<rect x="610" y="326" width="3" height="1" fill="#c0c0c0"/>
<rect x="616" y="326" width="3" height="1" fill="#c0c0c0"/>
<rect x="622" y="326" width="3" height="1" fill="#c0c0c0"/>
<rect x="628" y="326" width="3" height="1" fill="#c0c0c0"/>
<rect x="634" y="326" width="3" height="1" fill="#c0c0c0"/>
<rect x="640" y="326" width="3" height="1" fill="#c0c0c0"/>
<rect x="646" y="326" width="3" height="1" fill="#c0c0c0"/>
<rect x="652" y="326" width="3" height="1" fill="#c0c0c0"/>
<rect x="658" y="326" width="3" height="1" fill="#c0c0c0"/>
<rect x="664" y="326" width="3" height="1" fill="#c0c0c0"/>
<rect x="670" y="326" width="3" height="1" fill="#c0c0c0"/>
<rect x="676" y="326" width="3" height="1" fill="#c0c0c0"/>
<rect x="682" y="326" width="3" height="1" fill="#c0c0c0"/>
<rect x="688" y="326" width="3" height="1" fill="#c0c0c0"/>
<rect x="694" y="326" width="3" height="1" fill="#c0c0c0"/>
<rect x="700" y="326" width="3" height="1" fill="#c0c0c0"/>
<rect x="706" y="326" width="3" height="1" fill="#c0c0c0"/>
<rect x="712" y="326" width="3" height="1" fill="#c0c0c0"/>
<rect x="718" y="326" width="3" height="1" fill="#c0c0c0"/>
<rect x="724" y="326" width="3" height="1" fill="#c0c0c0"/>
<rect x="730" y="326" width="3" height="1" fill="#c0c0c0"/>
<rect x="736" y="326" width="3" height="1" fill="#c0c0c0"/>
<rect x="742" y="326" width="3" height="1" fill="#c0c0c0"/>
<rect x="748" y="326" width="3" height="1" fill="#c0c0c0"/>
<rect x="754" y="326" width="3" height="1" fill="#c0c0c0"/>
<rect x="760" y="326" width="3" height="1" fill="#c0c0c0"/>
<rect x="766" y="326" width="3" height="1" fill="#c0c0c0"/>
<rect x="772" y="326" width="3" height="1" fill="#c0c0c0"/>
<rect x="778" y="326" width="3" height="1" fill="#c0c0c0"/>
<rect x="784" y="326" width="3" height="1" fill="#c0c0c0"/>
<rect x="790" y="326" width="3" height="1" fill="#c0c0c0"/>
<rect x="796" y="326" width="3" height="1" fill="#c0c0c0"/>
<rect x="802" y="326" width="3" height="1" fill="#c0c0c0"/>
<rect x="808" y="326" width="3" height="1" fill="#c0c0c0"/>
<rect x="814" y="326" width="3" height="1" fill="#c0c0c0"/>
<rect x="820" y="326" width="3" height="1" fill="#c0c0c0"/>
<rect x="826" y="326" width="3" height="1" fill="#c0c0c0"/>
<rect x="832" y="326" width="3" height="1" fill="#c0c0c0"/>
<rect x="838" y="326" width="3" height="1" fill="#c0c0c0"/>
<rect x="844" y="326" width="3" height="1" fill="#c0c0c0"/>
<rect x="850" y="326" width="3" height="1" fill="#c0c0c0"/>
<rect x="856" y="326" width="3" height="1" fill="#c0c0c0"/>
<rect x="862" y="326" width="3" height="1" fill="#c0c0c0"/>
<rect x="868" y="326" width="3" height="1" fill="#c0c0c0"/>
<rect x="874" y="326" width="3" height="1" fill="#c0c0c0"/>
<rect x="880" y="326" width="3" height="1" fill="#c0c0c0"/>
<rect x="886" y="326" width="3" height="1" fill="#c0c0c0"/>
<rect x="892" y="326" width="3" height="1" fill="#c0c0c0"/>
<rect x="898" y="326" width="3" height="1" fill="#c0c0c0"/>
<rect x="904" y="326" width="3" height="1" fill="#c0c0c0"/>
<rect x="910" y="326" width="3" height="1" fill="#c0c0c0"/>
<rect x="916" y="326" width="3" height="1" fill="#c0c0c0"/>
<rect x="922" y="326" width="3" height="1" fill="#c0c0c0"/>
<rect x="928" y="326" width="3" height="1" fill="#c0c0c0"/>
<rect x="934" y="326" width="3" height="1" fill="#c0c0c0"/>
<rect x="940" y="326" width="3" height="1" fill="#c0c0c0"/>
<rect x="946" y="326" width="3" height="1" fill="#c0c0c0"/>
<rect x="952" y="326" width="3" height="1" fill="#c0c0c0"/>
<polyline points="3.50,304.50 11.50,293.25 19.50,301.25 27.50,299.25 35.50,299.25 43.50,293.25 51.50,300.00 59.50,310.00 67.50,319.50 75.50,319.50 83.50,319.50 91.50,325.50 99.50,322.00 107.50,331.50 115.50,328.00 123.50,329.25 131.50,328.00 139.50,322.00 147.50,323.00 155.50,332.50 163.50,330.50 171.50,323.25 179.50,323.25 187.50,325.00 195.50,328.75 203.50,333.25 211.50,335.50 219.50,327.00 227.50,328.25 235.50,326.25 243.50,327.50 251.50,330.50 259.50,321.25 267.50,321.25 275.50,322.50 283.50,325.75 291.50,310.75 299.50,302.50 307.50,309.25 315.50,307.00 323.50,311.75 331.50,315.00 339.50,318.00 347.50,321.75 355.50,323.50 363.50,323.25 371.50,316.25 379.50,314.25 387.50,313.25 395.50,305.00 403.50,301.25 411.50,307.00 419.50,303.25 427.50,315.00 435.50,319.25 443.50,314.25 451.50,317.50 459.50,316.25 467.50,318.25 475.50,325.50 483.50,325.30 491.50,329.25 499.50,329.50 507.50,332.50 515.50,325.50 523.50,320.50 531.50,320.50 539.50,308.25 547.50,310.00 555.50,314.25 563.50,310.00 571.50,307.00 579.50,310.50 587.50,306.25 595.50,304.25 603.50,303.25 611.50,304.50 619.50,300.00 627.50,307.00 635.50,309.50 643.50,309.50 651.50,314.25 659.50,308.25 667.50,311.75 675.50,304.50 683.50,316.25 691.50,318.25 699.50,319.50 707.50,320.50 715.50,308.75 723.50,298.50 731.50,300.00 739.50,297.00 747.50,300.50 755.50,295.00 763.50,291.25 771.50,293.25 779.50,286.25 787.50,283.00 795.50,283.75 803.50,286.25 811.50,285.00 819.50,286.25 827.50,298.00 835.50,294.25 843.50,291.25 851.50,291.25 859.50,284.25 867.50,286.25 875.50,275.75 883.50,280.50 891.50,278.00 899.50,283.00 907.50,286.75" fill="none" stroke="#1e90ff" stroke-width="1" />
<polyline points="3.50,439.50 11.00,436.00 20.00,446.00 35.00,453.00 43.00,432.50 51.00,439.50 60.00,446.00 67.50,451.00 82.50,458.75 100.00,465.00 115.00,470.00 132.50,473.75 140.00,455.00 164.00,463.75 172.50,447.50 180.00,448.75 195.00,457.50 212.50,465.00 235.00,472.50 250.00,460.00 265.00,468.00 284.00,471.00 299.00,448.50 315.00,455.00 322.50,460.00 355.00,470.00 364.00,457.00 380.00,453.00 387.50,456.00 395.00,440.00 404.00,431.00 427.50,450.00 443.50,458.00 451.50,452.50 475.00,463.75 490.00,467.50 515.50,473.75 523.50,460.00 531.50,455.00 539.50,446.00 547.50,451.00 563.50,458.00 571.50,453.75 587.50,454.50 610.00,463.75 619.50,445.00 627.50,448.75 642.50,457.50 659.50,464.50 667.50,462.50 675.50,455.00 707.50,466.00 715.50,450.00 723.50,441.00 730.00,439.50 747.50,446.00 763.50,432.50 771.50,439.50 782.50,436.00 795.00,440.00 811.50,451.00 819.50,450.00 835.50,458.75 851.50,448.75 859.50,433.00 867.50,438.75 875.50,425.50 883.50,431.00 907.50,448.75" fill="none" stroke="#f4f4e2" stroke-width="1" />
<polyline points="3.50,446.00 51.00,464.50 67.50,436.00 75.00,443.75 82.50,444.50 91.00,427.00 100.00,422.50 107.50,412.50 115.00,421.00 122.50,424.50 131.00,432.50 140.00,440.00 147.50,438.00 155.00,425.50 164.00,433.75 172.50,440.50 180.00,445.00 187.50,435.00 196.00,425.50 204.00,421.00 211.00,420.00 220.00,428.75 227.50,436.00 235.00,430.50 244.00,432.50 252.50,442.50 267.50,450.00 275.00,448.00 284.00,439.50 291.00,444.50 315.50,459.30 324.00,440.50 331.00,439.50 340.00,431.00 347.50,422.50 355.50,431.00 379.50,448.75 387.50,449.50 404.00,457.00 420.00,455.50 427.50,443.75 435.50,439.50 443.50,433.75 451.50,440.00 459.50,446.00 467.50,443.75 475.50,426.00 483.50,433.00 491.50,425.50 499.50,433.00 507.50,432.50 515.50,436.00 531.50,447.00 547.50,457.00 555.50,441.00 563.50,442.50 580.00,453.00 603.50,464.50 611.50,453.00 619.50,456.00 627.50,447.00 635.50,445.00 643.50,446.00 651.50,438.75 659.50,437.50 667.50,443.75 675.50,450.00 683.50,438.00 691.50,441.00 699.50,439.50 707.50,445.00 715.50,451.00 745.00,463.75 763.50,469.50 771.50,460.50 795.00,468.00 803.50,461.00 811.50,446.00 819.50,450.00 827.50,439.50 835.50,446.00 875.00,465.00 899.50,470.00 907.50,468.00" fill="none" stroke="#ffdcc0" stroke-width="1" />
<rect x="4" y="445" width="3" height="1" fill="#c0c0c0"/>
<rect x="10" y="445" width="3" height="1" fill="#c0c0c0"/>
<rect x="16" y="445" width="3" height="1" fill="#c0c0c0"/>
<rect x="22" y="445" width="3" height="1" fill="#c0c0c0"/>
<rect x="28" y="445" width="3" height="1" fill="#c0c0c0"/>
<rect x="34" y="445" width="3" height="1" fill="#c0c0c0"/>
<rect x="40" y="445" width="3" height="1" fill="#c0c0c0"/>
<rect x="46" y="445" width="3" height="1" fill="#c0c0c0"/>
<rect x="52" y="445" width="3" height="1" fill="#c0c0c0"/>
<rect x="58" y="445" width="3" height="1" fill="#c0c0c0"/>
<rect x="64" y="445" width="3" height="1" fill="#c0c0c0"/>
<rect x="70" y="445" width="3" height="1" fill="#c0c0c0"/>
<rect x="76" y="445" width="3" height="1" fill="#c0c0c0"/>
<rect x="82" y="445" width="3" height="1" fill="#c0c0c0"/>
<rect x="88" y="445" width="3" height="1" fill="#c0c0c0"/>
<rect x="94" y="445" width="3" height="1" fill="#c0c0c0"/>
<rect x="100" y="445" width="3" height="1" fill="#c0c0c0"/>
<rect x="106" y="445" width="3" height="1" fill="#c0c0c0"/>
<rect x="112" y="445" width="3" height="1" fill="#c0c0c0"/>
<rect x="118" y="445" width="3" height="1" fill="#c0c0c0"/>
<rect x="124" y="445" width="3" height="1" fill="#c0c0c0"/>
<rect x="130" y="445" width="3" height="1" fill="#c0c0c0"/>
<rect x="136" y="445" width="3" height="1" fill="#c0c0c0"/>
<rect x="142" y="445" width="3" height="1" fill="#c0c0c0"/>
<rect x="148" y="445" width="3" height="1" fill="#c0c0c0"/>
<rect x="154" y="445" width="3" height="1" fill="#c0c0c0"/>
<rect x="160" y="445" width="3" height="1" fill="#c0c0c0"/>
<rect x="166" y="445" width="3" height="1" fill="#c0c0c0"/>
<rect x="172" y="445" width="3" height="1" fill="#c0c0c0"/>
<rect x="178" y="445" width="3" height="1" fill="#c0c0c0"/>
<rect x="184" y="445" width="3" height="1" fill="#c0c0c0"/>
<rect x="190" y="445" width="3" height="1" fill="#c0c0c0"/>
<rect x="196" y="445" width="3" height="1" fill="#c0c0c0"/>
<rect x="202" y="445" width="3" height="1" fill="#c0c0c0"/>
<rect x="208" y="445" width="3" height="1" fill="#c0c0c0"/>
<rect x="214" y="445" width="3" height="1" fill="#c0c0c0"/>
<rect x="220" y="445" width="3" height="1" fill="#c0c0c0"/>
<rect x="226" y="445" width="3" height="1" fill="#c0c0c0"/>
<rect x="232" y="445" width="3" height="1" fill="#c0c0c0"/>
<rect x="238" y="445" width="3" height="1" fill="#c0c0c0"/>
<rect x="244" y="445" width="3" height="1" fill="#c0c0c0"/>
<rect x="250" y="445" width="3" height="1" fill="#c0c0c0"/>
<rect x="256" y="445" width="3" height="1" fill="#c0c0c0"/>
<rect x="262" y="445" width="3" height="1" fill="#c0c0c0"/>
<rect x="268" y="445" width="3" height="1" fill="#c0c0c0"/>
<rect x="274" y="445" width="3" height="1" fill="#c0c0c0"/>
<rect x="280" y="445" width="3" height="1" fill="#c0c0c0"/>
<rect x="286" y="445" width="3" height="1" fill="#c0c0c0"/>
<rect x="292" y="445" width="3" height="1" fill="#c0c0c0"/>
<rect x="298" y="445" width="3" height="1" fill="#c0c0c0"/>
<rect x="304" y="445" width="3" height="1" fill="#c0c0c0"/>
<rect x="310" y="445" width="3" height="1" fill="#c0c0c0"/>
<rect x="316" y="445" width="3" height="1" fill="#c0c0c0"/>
<rect x="322" y="445" width="3" height="1" fill="#c0c0c0"/>
<rect x="328" y="445" width="3" height="1" fill="#c0c0c0"/>
<rect x="334" y="445" width="3" height="1" fill="#c0c0c0"/>
<rect x="340" y="445" width="3" height="1" fill="#c0c0c0"/>
<rect x="346" y="445" width="3" height="1" fill="#c0c0c0"/>
<rect x="352" y="445" width="3" height="1" fill="#c0c0c0"/>
<rect x="358" y="445" width="3" height="1" fill="#c0c0c0"/>
<rect x="364" y="445" width="3" height="1" fill="#c0c0c0"/>
<rect x="370" y="445" width="3" height="1" fill="#c0c0c0"/>
<rect x="376" y="445" width="3" height="1" fill="#c0c0c0"/>
<rect x="382" y="445" width="3" height="1" fill="#c0c0c0"/>
<rect x="388" y="445" width="3" height="1" fill="#c0c0c0"/>
<rect x="394" y="445" width="3" height="1" fill="#c0c0c0"/>
<rect x="400" y="445" width="3" height="1" fill="#c0c0c0"/>
<rect x="406" y="445" width="3" height="1" fill="#c0c0c0"/>
<rect x="412" y="445" width="3" height="1" fill="#c0c0c0"/>
<rect x="418" y="445" width="3" height="1" fill="#c0c0c0"/>
<rect x="424" y="445" width="3" height="1" fill="#c0c0c0"/>
<rect x="430" y="445" width="3" height="1" fill="#c0c0c0"/>
<rect x="436" y="445" width="3" height="1" fill="#c0c0c0"/>
<rect x="442" y="445" width="3" height="1" fill="#c0c0c0"/>
<rect x="448" y="445" width="3" height="1" fill="#c0c0c0"/>
<rect x="454" y="445" width="3" height="1" fill="#c0c0c0"/>
<rect x="460" y="445" width="3" height="1" fill="#c0c0c0"/>
<rect x="466" y="445" width="3" height="1" fill="#c0c0c0"/>
<rect x="472" y="445" width="3" height="1" fill="#c0c0c0"/>
<rect x="478" y="445" width="3" height="1" fill="#c0c0c0"/>
<rect x="484" y="445" width="3" height="1" fill="#c0c0c0"/>
<rect x="490" y="445" width="3" height="1" fill="#c0c0c0"/>
<rect x="496" y="445" width="3" height="1" fill="#c0c0c0"/>
<rect x="502" y="445" width="3" height="1" fill="#c0c0c0"/>
<rect x="508" y="445" width="3" height="1" fill="#c0c0c0"/>
<rect x="514" y="445" width="3" height="1" fill="#c0c0c0"/>
<rect x="520" y="445" width="3" height="1" fill="#c0c0c0"/>
<rect x="526" y="445" width="3" height="1" fill="#c0c0c0"/>
<rect x="532" y="445" width="3" height="1" fill="#c0c0c0"/>
<rect x="538" y="445" width="3" height="1" fill="#c0c0c0"/>
<rect x="544" y="445" width="3" height="1" fill="#c0c0c0"/>
<rect x="550" y="445" width="3" height="1" fill="#c0c0c0"/>
<rect x="556" y="445" width="3" height="1" fill="#c0c0c0"/>
<rect x="562" y="445" width="3" height="1" fill="#c0c0c0"/>
<rect x="568" y="445" width="3" height="1" fill="#c0c0c0"/>
<rect x="574" y="445" width="3" height="1" fill="#c0c0c0"/>
<rect x="580" y="445" width="3" height="1" fill="#c0c0c0"/>
<rect x="586" y="445" width="3" height="1" fill="#c0c0c0"/>
<rect x="592" y="445" width="3" height="1" fill="#c0c0c0"/>
<rect x="598" y="445" width="3" height="1" fill="#c0c0c0"/>
<rect x="604" y="445" width="3" height="1" fill="#c0c0c0"/>
<rect x="610" y="445" width="3" height="1" fill="#c0c0c0"/>
<rect x="616" y="445" width="3" height="1" fill="#c0c0c0"/>
<rect x="622" y="445" width="3" height="1" fill="#c0c0c0"/>
<rect x="628" y="445" width="3" height="1" fill="#c0c0c0"/>
<rect x="634" y="445" width="3" height="1" fill="#c0c0c0"/>
<rect x="640" y="445" width="3" height="1" fill="#c0c0c0"/>
<rect x="646" y="445" width="3" height="1" fill="#c0c0c0"/>
<rect x="652" y="445" width="3" height="1" fill="#c0c0c0"/>
<rect x="658" y="445" width="3" height="1" fill="#c0c0c0"/>
<rect x="664" y="445" width="3" height="1" fill="#c0c0c0"/>
<rect x="670" y="445" width="3" height="1" fill="#c0c0c0"/>
<rect x="676" y="445" width="3" height="1" fill="#c0c0c0"/>
<rect x="682" y="445" width="3" height="1" fill="#c0c0c0"/>
<rect x="688" y="445" width="3" height="1" fill="#c0c0c0"/>
<rect x="694" y="445" width="3" height="1" fill="#c0c0c0"/>
<rect x="700" y="445" width="3" height="1" fill="#c0c0c0"/>
<rect x="706" y="445" width="3" height="1" fill="#c0c0c0"/>
<rect x="712" y="445" width="3" height="1" fill="#c0c0c0"/>
<rect x="718" y="445" width="3" height="1" fill="#c0c0c0"/>
<rect x="724" y="445" width="3" height="1" fill="#c0c0c0"/>
<rect x="730" y="445" width="3" height="1" fill="#c0c0c0"/>
<rect x="736" y="445" width="3" height="1" fill="#c0c0c0"/>
<rect x="742" y="445" width="3" height="1" fill="#c0c0c0"/>
<rect x="748" y="445" width="3" height="1" fill="#c0c0c0"/>
<rect x="754" y="445" width="3" height="1" fill="#c0c0c0"/>
<rect x="760" y="445" width="3" height="1" fill="#c0c0c0"/>
<rect x="766" y="445" width="3" height="1" fill="#c0c0c0"/>
<rect x="772" y="445" width="3" height="1" fill="#c0c0c0"/>
<rect x="778" y="445" width="3" height="1" fill="#c0c0c0"/>
<rect x="784" y="445" width="3" height="1" fill="#c0c0c0"/>
<rect x="790" y="445" width="3" height="1" fill="#c0c0c0"/>
<rect x="796" y="445" width="3" height="1" fill="#c0c0c0"/>
<rect x="802" y="445" width="3" height="1" fill="#c0c0c0"/>
<rect x="808" y="445" width="3" height="1" fill="#c0c0c0"/>
<rect x="814" y="445" width="3" height="1" fill="#c0c0c0"/>
<rect x="820" y="445" width="3" height="1" fill="#c0c0c0"/>
<rect x="826" y="445" width="3" height="1" fill="#c0c0c0"/>
<rect x="832" y="445" width="3" height="1" fill="#c0c0c0"/>
<rect x="838" y="445" width="3" height="1" fill="#c0c0c0"/>
<rect x="844" y="445" width="3" height="1" fill="#c0c0c0"/>
<rect x="850" y="445" width="3" height="1" fill="#c0c0c0"/>
<rect x="856" y="445" width="3" height="1" fill="#c0c0c0"/>
<rect x="862" y="445" width="3" height="1" fill="#c0c0c0"/>
<rect x="868" y="445" width="3" height="1" fill="#c0c0c0"/>
<rect x="874" y="445" width="3" height="1" fill="#c0c0c0"/>
<rect x="880" y="445" width="3" height="1" fill="#c0c0c0"/>
<rect x="886" y="445" width="3" height="1" fill="#c0c0c0"/>
<rect x="892" y="445" width="3" height="1" fill="#c0c0c0"/>
<rect x="898" y="445" width="3" height="1" fill="#c0c0c0"/>
<rect x="904" y="445" width="3" height="1" fill="#c0c0c0"/>
<rect x="910" y="445" width="3" height="1" fill="#c0c0c0"/>
<rect x="916" y="445" width="3" height="1" fill="#c0c0c0"/>
<rect x="922" y="445" width="3" height="1" fill="#c0c0c0"/>
<rect x="928" y="445" width="3" height="1" fill="#c0c0c0"/>
<rect x="934" y="445" width="3" height="1" fill="#c0c0c0"/>
<rect x="940" y="445" width="3" height="1" fill="#c0c0c0"/>
<rect x="946" y="445" width="3" height="1" fill="#c0c0c0"/>
<rect x="952" y="445" width="3" height="1" fill="#c0c0c0"/>
<polyline points="3.50,386.25 11.50,398.00 19.50,406.25 27.50,413.25 35.50,419.50 43.50,416.25 51.50,413.25 59.50,422.50 67.50,425.50 75.50,427.00 83.50,428.25 91.50,422.50 99.50,415.00 107.50,405.50 115.50,397.50 123.50,388.75 131.50,381.25 139.50,387.50 147.50,393.00 155.50,391.25 163.50,390.50 171.50,401.25 179.50,411.25 187.50,414.50 195.50,411.25 203.50,407.50 211.50,402.00 219.50,397.00 227.50,392.50 235.50,386.25 243.50,379.80 251.50,372.70 259.50,368.25 267.50,372.00 275.50,373.25 283.50,370.50 291.50,383.75 299.50,395.00 307.50,406.25 315.50,414.25 323.50,414.25 331.50,412.00 339.50,406.25 347.50,398.75 355.50,391.25 363.50,395.00 371.50,402.50 379.50,411.25 387.50,417.00 395.50,420.50 403.50,418.25 411.50,419.25 419.50,422.50 427.50,427.50 435.50,429.25 443.50,427.50 451.50,430.00 459.50,432.50 467.50,431.25 475.50,425.50 483.50,418.40 491.50,408.75 499.50,402.00 507.50,393.75 515.50,385.50 523.50,390.50 531.50,399.25 539.50,407.50 547.50,413.75 555.50,418.00 563.50,419.25 571.50,425.50 579.50,432.50 587.50,437.00 595.50,441.25 603.50,445.00 611.50,443.25 619.50,443.25 627.50,447.00 635.50,448.25 643.50,448.25 651.50,442.00 659.50,435.00 667.50,433.25 675.50,438.25 683.50,435.00 691.50,432.00 699.50,427.00 707.50,422.50 715.50,429.25 723.50,431.25 731.50,428.75 739.50,428.00 747.50,426.25 755.50,421.75 763.50,412.50 771.50,412.50 779.50,408.75 787.50,405.00 795.50,401.25 803.50,405.00 811.50,413.25 819.50,422.00 827.50,423.25 835.50,424.50 843.50,431.25 851.50,438.25 859.50,433.75 867.50,430.50 875.50,421.25 883.50,413.75 891.50,408.00 899.50,403.75 907.50,403.25" fill="none" stroke="#ff0000" stroke-width="1" />
<rect x="2" y="2" width="956" height="1" fill="#000088"/>
<rect x="2" y="241" width="956" height="1" fill="#000088"/>
<rect x="2" y="2" width="1" height="240" fill="#000088"/>
<rect x="957" y="2" width="1" height="240" fill="#000088"/>
<rect x="2" y="243" width="956" height="1" fill="#000088"/>
<rect x="2" y="362" width="956" height="1" fill="#000088"/>
<rect x="2" y="243" width="1" height="120" fill="#000088"/>
<rect x="957" y="243" width="1" height="120" fill="#000088"/>
<rect x="2" y="364" width="956" height="1" fill="#000088"/>
<rect x="2" y="482" width="956" height="1" fill="#000088"/>
<rect x="2" y="364" width="1" height="119" fill="#000088"/>
<rect x="957" y="364" width="1" height="119" fill="#000088"/>
<rect x="958" y="7" width="2" height="1" fill="#000088"/>
<rect x="958" y="40" width="2" height="1" fill="#000088"/>
<rect x="958" y="73" width="2" height="1" fill="#000088"/>
<rect x="958" y="106" width="2" height="1" fill="#000088"/>
<rect x="958" y="139" width="2" height="1" fill="#000088"/>
<rect x="958" y="172" width="2" height="1" fill="#000088"/>
<rect x="958" y="205" width="2" height="1" fill="#000088"/>
<rect x="958" y="238" width="2" height="1" fill="#000088"/>
<rect x="958" y="245" width="1" height="1" fill="#000088"/>
<rect x="958" y="361" width="1" height="1" fill="#000088"/>
<rect x="958" y="366" width="1" height="1" fill="#000088"/>
<rect x="958" y="481" width="1" height="1" fill="#000088"/>
<rect x="3" y="483" width="1" height="3" fill="#000088"/>
<rect x="67" y="483" width="1" height="3" fill="#000088"/>
<rect x="131" y="483" width="1" height="3" fill="#000088"/>
<rect x="195" y="483" width="1" height="3" fill="#000088"/>
<rect x="259" y="483" width="1" height="3" fill="#000088"/>
<rect x="323" y="483" width="1" height="3" fill="#000088"/>
<rect x="387" y="483" width="1" height="3" fill="#000088"/>
<rect x="451" y="483" width="1" height="3" fill="#000088"/>
<rect x="515" y="483" width="1" height="3" fill="#000088"/>
<rect x="579" y="483" width="1" height="3" fill="#000088"/>
<rect x="643" y="483" width="1" height="3" fill="#000088"/>
<rect x="707" y="483" width="1" height="3" fill="#000088"/>
<rect x="771" y="483" width="1" height="3" fill="#000088"/>
<rect x="835" y="483" width="1" height="3" fill="#000088"/>
<rect x="899" y="483" width="1" height="3" fill="#000088"/>
<rect x="959" y="27" width="41" height="11" fill="#0000ff"/>
<rect x="959" y="116" width="41" height="11" fill="#ff0000"/>
<rect x="959" y="135" width="41" height="21" fill="#ff0000"/>
<rect x="17" y="4" width="216" height="12" fill="#fafad2"/>
<rect x="6" y="9" width="7" height="1" fill="#000088"/>
<rect x="7" y="10" width="5" height="1" fill="#000088"/>
<rect x="8" y="11" width="3" height="1" fill="#000088"/>
<rect x="9" y="12" width="1" height="1" fill="#000088"/>
</svg>
<div class="t" style="left:17.5px;top:6.01px;color:#000088;transform:scale(0.2344,0.245)">GBPUSD_m,H4</div><div class="t" style="left:91.3px;top:6.01px;color:#000088;transform:scale(0.2255,0.245)">1.53194</div><div class="t" style="left:127.3px;top:6.01px;color:#000088;transform:scale(0.2255,0.245)">1.53218</div><div class="t" style="left:163.3px;top:6.01px;color:#000088;transform:scale(0.2255,0.245)">1.53065</div><div class="t" style="left:199.3px;top:6.01px;color:#000088;transform:scale(0.2255,0.245)">1.53072</div><div class="t" style="left:6.8px;top:248.01px;color:#000088;transform:scale(0.2293,0.245)">RSI(14)</div><div class="t" style="left:41.3px;top:248.01px;color:#000088;transform:scale(0.2289,0.245)">64.5137</div><div class="t" style="left:7.3px;top:369.01px;color:#000088;transform:scale(0.2223,0.245)">ADX(14)</div><div class="t" style="left:44.8px;top:369.01px;color:#000088;transform:scale(0.2255,0.245)">35.4282</div><div class="t" style="left:81.3px;top:369.01px;color:#000088;transform:scale(0.2424,0.245)">+DI:15.0337</div><div class="t" style="left:137.8px;top:369.01px;color:#000088;transform:scale(0.2415,0.245)">-DI:7.0874</div><div class="t" style="left:6.8px;top:470.01px;color:#000088;transform:scale(0.2267,0.245)">FreshForex</div><div class="t" style="left:55.55px;top:470.01px;color:#000088;transform:scale(0.2348,0.245)">Terminal,</div><div class="t" style="left:97.55px;top:470.01px;color:#000088;transform:scale(0.2900,0.245)">©</div><div class="t" style="left:109.55px;top:470.01px;color:#000088;transform:scale(0.2203,0.245)">2001-2013,</div><div class="t" style="left:158.05px;top:470.01px;color:#000088;transform:scale(0.2334,0.245)">MetaQuotes</div><div class="t" style="left:212.05px;top:470.01px;color:#000088;transform:scale(0.2366,0.245)">Software</div><div class="t" style="left:253.3px;top:470.01px;color:#000088;transform:scale(0.2208,0.245)">Corp.</div><div class="t" style="left:963.3px;top:2.01px;color:#000088;transform:scale(0.2255,0.245)">1.56095</div><div class="t" style="left:963.3px;top:35.01px;color:#000088;transform:scale(0.2255,0.245)">1.55220</div><div class="t" style="left:963.3px;top:68.01px;color:#000088;transform:scale(0.2255,0.245)">1.54370</div><div class="t" style="left:963.3px;top:101.01px;color:#000088;transform:scale(0.2255,0.245)">1.53495</div><div class="t" style="left:963.3px;top:167.01px;color:#000088;transform:scale(0.2255,0.245)">1.51745</div><div class="t" style="left:963.3px;top:200.01px;color:#000088;transform:scale(0.2255,0.245)">1.50870</div><div class="t" style="left:963.3px;top:233.01px;color:#000088;transform:scale(0.2255,0.245)">1.49995</div><div class="t" style="left:963.3px;top:28.01px;color:#fff;transform:scale(0.2255,0.245)">1.55429</div><div class="t" style="left:963.3px;top:117.01px;color:#fff;transform:scale(0.2255,0.245)">1.53062</div><div class="t" style="left:963.3px;top:136.01px;color:#fff;transform:scale(0.2255,0.245)">1.52551</div><div class="t" style="left:963.3px;top:146.01px;color:#fff;transform:scale(0.2255,0.245)">1.52297</div><div class="t" style="left:961.0999999999999px;top:246.01px;color:#000088;transform:scale(0.2187,0.245)">100</div><div class="t" style="left:960.1px;top:275.01px;color:#000088;transform:scale(0.2202,0.245)">70</div><div class="t" style="left:960.1px;top:321.01px;color:#000088;transform:scale(0.2202,0.245)">30</div><div class="t" style="left:960.7px;top:351.01px;color:#000088;transform:scale(0.2382,0.245)">0</div><div class="t" style="left:960.7px;top:367.01px;color:#000088;transform:scale(0.2292,0.245)">52</div><div class="t" style="left:960.8px;top:440.01px;color:#000088;transform:scale(0.2270,0.245)">17</div><div class="t" style="left:961.3px;top:471.01px;color:#000088;transform:scale(0.2067,0.245)">1</div><div class="t" style="left:1.5000000000000002px;top:487.01px;color:#000088;transform:scale(0.2421,0.245)">8 May 2013</div><div class="t" style="left:65.5px;top:487.01px;color:#000088;transform:scale(0.2435,0.245)">9 May 20:00</div><div class="t" style="left:129.8px;top:487.01px;color:#000088;transform:scale(0.2397,0.245)">13 May 04:00</div><div class="t" style="left:193.8px;top:487.01px;color:#000088;transform:scale(0.2397,0.245)">14 May 12:00</div><div class="t" style="left:257.8px;top:487.01px;color:#000088;transform:scale(0.2397,0.245)">15 May 20:00</div><div class="t" style="left:321.8px;top:487.01px;color:#000088;transform:scale(0.2397,0.245)">17 May 04:00</div><div class="t" style="left:385.8px;top:487.01px;color:#000088;transform:scale(0.2397,0.245)">20 May 12:00</div><div class="t" style="left:449.8px;top:487.01px;color:#000088;transform:scale(0.2397,0.245)">21 May 20:00</div><div class="t" style="left:513.8px;top:487.01px;color:#000088;transform:scale(0.2397,0.245)">23 May 04:00</div><div class="t" style="left:577.8px;top:487.01px;color:#000088;transform:scale(0.2397,0.245)">24 May 12:00</div><div class="t" style="left:641.8px;top:487.01px;color:#000088;transform:scale(0.2397,0.245)">27 May 20:00</div><div class="t" style="left:705.8px;top:487.01px;color:#000088;transform:scale(0.2397,0.245)">29 May 04:00</div><div class="t" style="left:769.8px;top:487.01px;color:#000088;transform:scale(0.2397,0.245)">30 May 12:00</div><div class="t" style="left:833.8px;top:487.01px;color:#000088;transform:scale(0.2397,0.245)">31 May 20:00</div><div class="t" style="left:897.8px;top:487.01px;color:#000088;transform:scale(0.2337,0.245)">4 Jun 04:00</div>
</body></html>
